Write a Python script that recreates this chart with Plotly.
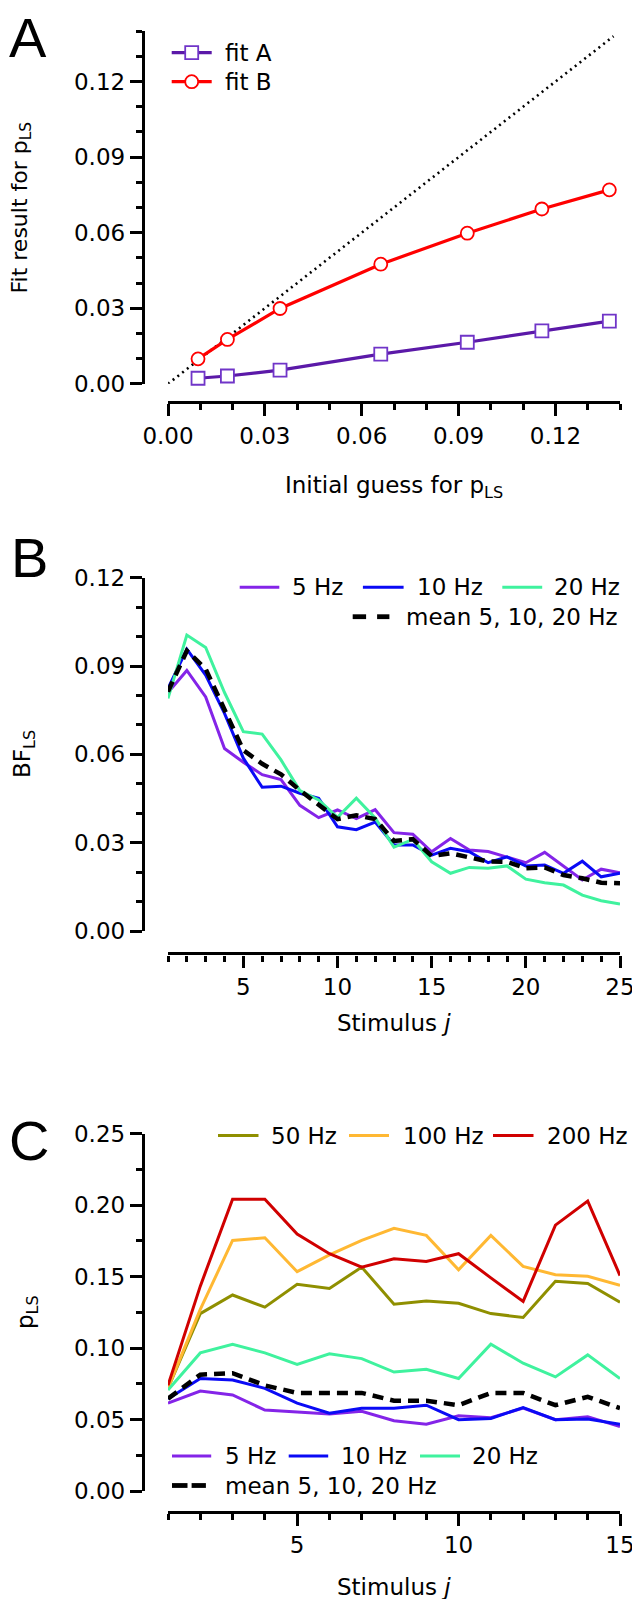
import plotly.graph_objects as go

# ---------------- data ----------------
# Panel A
A_init = [0.0093, 0.0184, 0.0347, 0.0659, 0.0927, 0.1158, 0.1367]
A_fitA = [0.0022, 0.0031, 0.0054, 0.0118, 0.0165, 0.0210, 0.0249]
A_fitB = [0.0099, 0.0176, 0.0299, 0.0475, 0.0598, 0.0694, 0.0770]
A_diag = [0.0, 0.138]

# Panel B
B_j = list(range(1, 26))
B_5Hz = [0.0810, 0.0885, 0.0795, 0.0620, 0.0573, 0.0531, 0.0514, 0.0427, 0.0385, 0.0411,
         0.0382, 0.0412, 0.0334, 0.0329, 0.0269, 0.0314, 0.0275, 0.0270, 0.0251, 0.0232,
         0.0267, 0.0221, 0.0173, 0.0210, 0.0198]
B_10Hz = [0.0824, 0.0957, 0.0869, 0.0739, 0.0587, 0.0488, 0.0492, 0.0468, 0.0451, 0.0354,
          0.0344, 0.0370, 0.0292, 0.0292, 0.0258, 0.0281, 0.0269, 0.0232, 0.0252, 0.0221,
          0.0224, 0.0196, 0.0237, 0.0184, 0.0196]
B_20Hz = [0.0790, 0.1005, 0.0963, 0.0810, 0.0677, 0.0669, 0.0581, 0.0477, 0.0445, 0.0386,
          0.0451, 0.0384, 0.0285, 0.0311, 0.0235, 0.0196, 0.0216, 0.0213, 0.0221, 0.0176,
          0.0164, 0.0156, 0.0122, 0.0103, 0.0092]
B_mean = [0.0813, 0.0952, 0.0890, 0.0750, 0.0614, 0.0568, 0.0532, 0.0478, 0.0431, 0.0380,
          0.0393, 0.0380, 0.0306, 0.0312, 0.0255, 0.0264, 0.0250, 0.0236, 0.0235, 0.0213,
          0.0216, 0.0190, 0.0179, 0.0164, 0.0162]

# Panel C
C_j = list(range(1, 16))
C_5Hz = [0.0614, 0.0699, 0.0672, 0.0566, 0.0552, 0.0539, 0.0558, 0.0491, 0.0467, 0.0526,
         0.0512, 0.0580, 0.0499, 0.0520, 0.0451]
C_10Hz = [0.0646, 0.0787, 0.0776, 0.0718, 0.0614, 0.0544, 0.0579, 0.0579, 0.0600, 0.0499,
          0.0507, 0.0584, 0.0499, 0.0504, 0.0467]
C_20Hz = [0.0707, 0.0966, 0.1027, 0.0966, 0.0886, 0.0960, 0.0926, 0.0832, 0.0851, 0.0787,
          0.1027, 0.0894, 0.0798, 0.0952, 0.0787]
C_mean = [0.0646, 0.0814, 0.0824, 0.0739, 0.0686, 0.0686, 0.0686, 0.0632, 0.0632, 0.0600,
          0.0686, 0.0686, 0.0600, 0.0659, 0.0579]
C_50Hz = [0.0720, 0.1241, 0.1371, 0.1286, 0.1446, 0.1417, 0.1566, 0.1307, 0.1329, 0.1313,
          0.1241, 0.1214, 0.1467, 0.1451, 0.1321]
C_100Hz = [0.0720, 0.1270, 0.1753, 0.1771, 0.1534, 0.1652, 0.1753, 0.1838, 0.1788, 0.1547,
           0.1788, 0.1571, 0.1513, 0.1502, 0.1438]
C_200Hz = [0.0739, 0.1433, 0.2041, 0.2041, 0.1798, 0.1660, 0.1566, 0.1625, 0.1606, 0.1660,
           0.1491, 0.1326, 0.1860, 0.2028, 0.1507]

# ---------------- style ----------------
W, H = 632, 1599
FONT = "DejaVu Sans"
FS = 23
COL_FA_LINE = "#5B19A8"
COL_FA_MARK = "#7035C8"
COL_FB = "#FF0000"
COL_5 = "#8424E8"
COL_10 = "#0A0AF5"
COL_20 = "#3FF29E"
COL_50 = "#8F8F00"
COL_100 = "#FFB833"
COL_200 = "#D00000"
MEAN_DASH = "11px,7px"
LW = 3


def px(x):
    return x / W


def py(y):
    return 1 - y / H


fig = go.Figure()

# Panel A traces
fig.add_trace(go.Scatter(x=A_diag, y=A_diag, mode="lines", xaxis="x", yaxis="y",
                         line=dict(color="black", width=2.6, dash="2px,4px")))
fig.add_trace(go.Scatter(x=A_init, y=A_fitA, mode="lines+markers", xaxis="x", yaxis="y",
                         cliponaxis=False,
                         line=dict(color=COL_FA_LINE, width=3.2),
                         marker=dict(symbol="square", size=13, color="white",
                                     line=dict(color=COL_FA_MARK, width=1.8))))
fig.add_trace(go.Scatter(x=A_init, y=A_fitB, mode="lines+markers", xaxis="x", yaxis="y",
                         cliponaxis=False,
                         line=dict(color=COL_FB, width=3.2),
                         marker=dict(symbol="circle", size=13, color="white",
                                     line=dict(color=COL_FB, width=1.8))))

# Panel B traces
for vals, col in [(B_5Hz, COL_5), (B_10Hz, COL_10), (B_20Hz, COL_20)]:
    fig.add_trace(go.Scatter(x=B_j, y=vals, mode="lines", xaxis="x2", yaxis="y2",
                             line=dict(color=col, width=LW)))
fig.add_trace(go.Scatter(x=B_j, y=B_mean, mode="lines", xaxis="x2", yaxis="y2",
                         line=dict(color="black", width=4.5, dash=MEAN_DASH)))

# Panel C traces
for vals, col in [(C_50Hz, COL_50), (C_100Hz, COL_100), (C_200Hz, COL_200),
                  (C_5Hz, COL_5), (C_10Hz, COL_10), (C_20Hz, COL_20)]:
    fig.add_trace(go.Scatter(x=C_j, y=vals, mode="lines", xaxis="x3", yaxis="y3",
                             line=dict(color=col, width=LW)))
fig.add_trace(go.Scatter(x=C_j, y=C_mean, mode="lines", xaxis="x3", yaxis="y3",
                         line=dict(color="black", width=4.5, dash=MEAN_DASH)))


def ax(**kw):
    d = dict(showline=True, linewidth=3.4, linecolor="black", ticks="outside",
             ticklen=12, tickwidth=2.8, tickcolor="black", showgrid=False,
             zeroline=False, anchor="free", ticklabeloverflow="allow",
             tickfont=dict(family=FONT, size=FS),
             minor=dict(ticks="outside", ticklen=6, tickwidth=2.8, tickcolor="black",
                        showgrid=False))
    minor = kw.pop("minor_dtick", None)
    if minor is not None:
        d["minor"]["dtick"] = minor
        d["minor"]["tick0"] = 0
    d.update(kw)
    return d


XL, XR, YAX = 168, 620, 143

fig.update_layout(
    width=W, height=H, margin=dict(l=0, r=0, t=0, b=0, autoexpand=False),
    paper_bgcolor="white", plot_bgcolor="rgba(0,0,0,0)",
    showlegend=False,
    font=dict(family=FONT, size=FS, color="black"),
    # Panel A
    xaxis=ax(domain=[px(XL), px(XR)], range=[0, 0.14], position=py(401.7),
             tick0=0, dtick=0.03, tickformat=".2f", minor_dtick=0.01),
    yaxis=ax(domain=[py(383.8), py(31.2)], range=[0, 0.14], position=px(YAX),
             tick0=0, dtick=0.03, tickformat=".2f", minor_dtick=0.01),
    # Panel B
    xaxis2=ax(domain=[px(XL), px(XR)], range=[1, 25], position=py(953.3),
              tick0=0, dtick=5, minor_dtick=1),
    yaxis2=ax(domain=[py(931), py(577.7)], range=[0, 0.12], position=px(YAX),
              tick0=0, dtick=0.03, tickformat=".2f", minor_dtick=0.01),
    # Panel C
    xaxis3=ax(domain=[px(XL), px(XR)], range=[1, 15], position=py(1511.5),
              tick0=0, dtick=5, minor_dtick=1),
    yaxis3=ax(domain=[py(1491), py(1133.6)], range=[0, 0.25], position=px(YAX),
              tick0=0, dtick=0.05, tickformat=".2f", minor_dtick=0.025),
)

annotations = []
shapes = []


def text(x, y, s, size=FS, xanchor="left", angle=0, fam=FONT):
    annotations.append(dict(x=px(x), y=py(y), xref="paper", yref="paper", text=s,
                            showarrow=False, xanchor=xanchor, yanchor="middle",
                            textangle=angle, font=dict(family=fam, size=size, color="black")))


def lseg(x0, x1, y, color, width=3, dash="solid"):
    shapes.append(dict(type="line", xref="paper", yref="paper", x0=px(x0), x1=px(x1),
                       y0=py(y), y1=py(y), line=dict(color=color, width=width, dash=dash),
                       layer="above"))


# panel letters
LET_FONT = "Liberation Sans"
text(28, 38, "A", size=56, xanchor="center", fam=LET_FONT)
text(29, 557, "B", size=56, xanchor="center", fam=LET_FONT)
text(29, 1140, "C", size=56, xanchor="center", fam=LET_FONT)

# axis titles
text(21, 207.5, "Fit result for p<sub>LS</sub>", size=22, xanchor="center", angle=-90)
text(394, 487, "Initial guess for p<sub>LS</sub>", xanchor="center")
text(24, 754, "BF<sub>LS</sub>", xanchor="center", angle=-90)
text(394, 1023, "Stimulus <i>j</i>", xanchor="center")
text(27, 1312, "p<sub>LS</sub>", xanchor="center", angle=-90)
text(394, 1587, "Stimulus <i>j</i>", xanchor="center")

# legend A
lseg(171.7, 211.7, 52.7, COL_FA_LINE, 3.2)
shapes.append(dict(type="rect", xref="paper", yref="paper", x0=px(185.2), x1=px(198.2),
                   y0=py(46.2), y1=py(59.2), fillcolor="white",
                   line=dict(color=COL_FA_MARK, width=1.8), layer="above"))
text(222.7, 52.7, "fit A")
lseg(171.7, 211.7, 81.7, COL_FB, 3.2)
shapes.append(dict(type="circle", xref="paper", yref="paper", x0=px(185.2), x1=px(198.2),
                   y0=py(75.2), y1=py(88.2), fillcolor="white",
                   line=dict(color=COL_FB, width=1.8), layer="above"))
text(222.7, 81.7, "fit B")

# legend B
lseg(239.7, 279.3, 587.3, COL_5, LW)
text(290.3, 587.3, "5 Hz")
lseg(362.9, 403.6, 587.3, COL_10, LW)
text(415, 587.3, "10 Hz")
lseg(502.3, 542.2, 587.3, COL_20, LW)
text(552.4, 587.3, "20 Hz")
lseg(352.7, 366.1, 616.7, "black", 4.8)
lseg(377.1, 389.4, 616.7, "black", 4.8)
text(404.4, 616.7, "mean 5, 10, 20 Hz")

# legend C top
lseg(218, 258.5, 1135.5, COL_50, LW)
text(269, 1135.5, "50 Hz")
lseg(349, 389, 1135.5, COL_100, LW)
text(401, 1135.5, "100 Hz")
lseg(493, 533.5, 1135.5, COL_200, LW)
text(544.5, 1135.5, "200 Hz")

# legend C bottom
lseg(172, 211.2, 1456, COL_5, LW)
text(223.4, 1456, "5 Hz")
lseg(288.7, 328.2, 1456, COL_10, LW)
text(339.2, 1456, "10 Hz")
lseg(420, 460, 1456, COL_20, LW)
text(469.7, 1456, "20 Hz")
lseg(172, 187.5, 1485.5, "black", 4.8)
lseg(191.6, 205.9, 1485.5, "black", 4.8)
text(223.4, 1485.5, "mean 5, 10, 20 Hz")

fig.update_layout(annotations=annotations, shapes=shapes)
fig.write_html("out.html")
